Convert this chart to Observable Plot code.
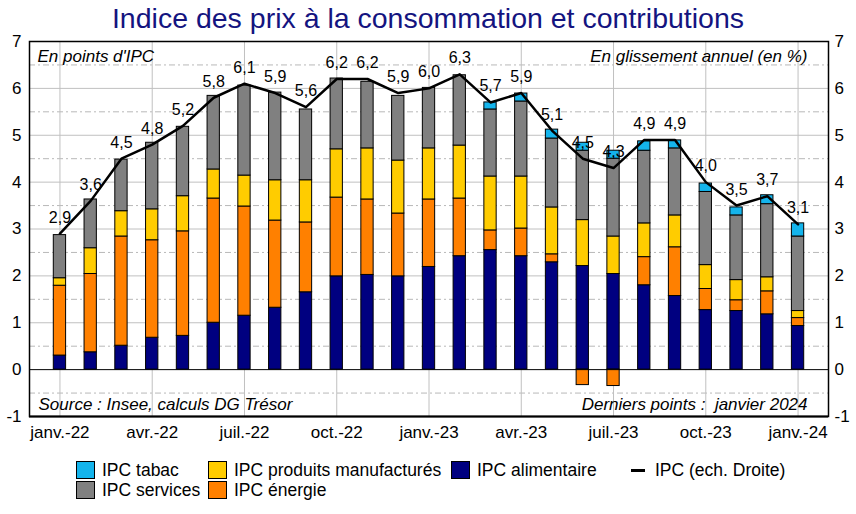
<!DOCTYPE html>
<html>
<head>
<meta charset="utf-8">
<script src="https://cdn.jsdelivr.net/npm/d3@7"></script>
<script src="https://cdn.jsdelivr.net/npm/@observablehq/plot@0.6"></script>
<style>
  body { margin: 0; background: #fff; font-family: "Liberation Sans", Arial, sans-serif; }
  #wrap { width: 856px; height: 514px; position: relative; overflow: hidden; }
  #title { height: 36px; line-height: 36px; text-align: center; font-size: 28.5px; color: #14147f; white-space: nowrap; }
  #chart svg { display: block; }
  #legend { position: relative; height: 68px; font-size: 17.5px; color: #000; }
  .item { position: absolute; display: flex; align-items: center; height: 18px; white-space: nowrap; }
  .sw { width: 17px; height: 16px; border: 1px solid #000; margin-right: 7px; box-sizing: content-box; }
  .ln { width: 14px; height: 3px; background: #000; margin-right: 10px; }
</style>
</head>
<body>
<div id="wrap">
  <div id="title">Indice des prix à la consommation et contributions</div>
  <div id="chart"></div>
  <div id="legend"></div>
</div>
<script>
const months = ["janv.-22","févr.-22","mars-22","avr.-22","mai-22","juin-22","juil.-22","août-22","sept.-22","oct.-22","nov.-22","déc.-22",
  "janv.-23","févr.-23","mars-23","avr.-23","mai-23","juin-23","juil.-23","août-23","sept.-23","oct.-23","nov.-23","déc.-23","janv.-24"];
const tickMonths = ["janv.-22","avr.-22","juil.-22","oct.-22","janv.-23","avr.-23","juil.-23","oct.-23","janv.-24"];

const alimentaire   = [0.30,0.37,0.51,0.68,0.72,1.00,1.15,1.32,1.65,1.99,2.02,1.99,2.19,2.42,2.55,2.42,2.29,2.21,2.04,1.80,1.57,1.27,1.25,1.18,0.93];
const energie       = [1.49,1.67,2.33,2.08,2.23,2.65,2.33,1.86,1.49,1.68,1.61,1.34,1.44,1.23,0.42,0.59,0.17,-0.33,-0.35,0.60,1.04,0.45,0.23,0.49,0.17];
const manufactures  = [0.16,0.55,0.54,0.66,0.75,0.62,0.66,0.86,0.90,1.03,1.09,1.13,1.09,1.13,1.15,1.11,1.00,0.98,0.80,0.72,0.68,0.51,0.43,0.30,0.15];
const services      = [0.92,1.04,1.10,1.42,1.48,1.57,1.92,1.87,1.51,1.51,1.42,1.38,1.29,1.50,1.43,1.60,1.47,1.48,1.66,1.55,1.43,1.56,1.38,1.56,1.59];
const tabac         = [0,0,0,0,0,0,0,0,0,0,0,0,0,0,0.15,0.17,0.19,0.17,0.17,0.20,0.17,0.18,0.17,0.19,0.28];
const ipc           = [2.9,3.6,4.5,4.8,5.2,5.8,6.1,5.9,5.6,6.2,6.2,5.9,6.0,6.3,5.7,5.9,5.1,4.5,4.3,4.9,4.9,4.0,3.5,3.7,3.1];

const seriesNames  = ["IPC alimentaire","IPC énergie","IPC produits manufacturés","IPC services","IPC tabac"];
const seriesColors = ["#000080","#ff8000","#ffcc00","#808080","#14b4ec"];
const seriesValues = [alimentaire, energie, manufactures, services, tabac];

const yTicks = [-1,0,1,2,3,4,5,6,7];
const yGrid = [1,2,3,4,5,6];
const yHalf = [-0.5,0.5,1.5,2.5,3.5,4.5,5.5,6.5];

const bars = months.flatMap((m, i) => seriesNames.map((s, j) => ({month: m, series: s, value: seriesValues[j][i]})))
  .filter(d => d.value !== 0);
const ipcRows = months.map((m, i) => ({month: m, ipc: ipc[i]}));

const chart = Plot.plot({
  width: 856,
  height: 410,
  marginTop: 5,
  marginBottom: 30,
  marginLeft: 29,
  marginRight: 28,
  style: {fontFamily: "Liberation Sans, Arial, sans-serif", fontSize: "17px", background: "white", overflow: "visible", color: "black"},
  x: {domain: months, paddingInner: 0.6, paddingOuter: 0.79, round: false, axis: null, label: null},
  y: {domain: [-1, 7], axis: null, label: null},
  color: {domain: seriesNames, range: seriesColors},
  marks: [
    Plot.gridY(yHalf, {stroke: "#b8b8b8", strokeOpacity: 1, strokeDasharray: "6,3,2,3"}),
    Plot.gridY(yGrid, {stroke: "#c0c0c0", strokeOpacity: 1}),
    Plot.gridX(tickMonths, {stroke: "#c0c0c0", strokeOpacity: 1}),
    Plot.axisX(tickMonths, {tickSize: 0, tickPadding: 9, fontSize: 17, label: null}),
    Plot.axisY(yTicks, {anchor: "left", tickSize: 0, tickPadding: 8, fontSize: 17, label: null, tickFormat: d => String(d)}),
    Plot.axisY(yTicks, {anchor: "right", tickSize: 0, tickPadding: 6, fontSize: 17, label: null, tickFormat: d => String(d)}),
    Plot.barY(bars, {x: "month", y: "value", fill: "series", order: seriesNames, stroke: "black", strokeWidth: 1}),
    Plot.ruleY([0], {stroke: "black", strokeWidth: 1}),
    Plot.lineY(ipcRows, {x: "month", y: "ipc", stroke: "black", strokeWidth: 2.5}),
    Plot.text(ipcRows, {x: "month", y: "ipc", text: d => d.ipc.toFixed(1).replace(".", ","), dy: -11, lineAnchor: "bottom", fontSize: 16, fill: "black"}),
    Plot.text(["En points d'IPC"], {frameAnchor: "top-left", dx: 8, dy: 8, fontStyle: "italic", fontSize: 17, fill: "black"}),
    Plot.text(["En glissement annuel (en %)"], {frameAnchor: "top-right", dx: -21, dy: 8, fontStyle: "italic", fontSize: 17, fill: "black"}),
    Plot.text(["Source : Insee, calculs DG Trésor"], {frameAnchor: "bottom-left", dx: 9, dy: -7, fontStyle: "italic", fontSize: 17, fill: "black"}),
    Plot.text(["Derniers points :  janvier 2024"], {frameAnchor: "bottom-right", dx: -21, dy: -7, fontStyle: "italic", fontSize: 17, fill: "black"}),
    Plot.ruleY([-1], {stroke: "black", strokeWidth: 2}),
    Plot.frame({stroke: "black", strokeWidth: 1.5})
  ]
});
document.getElementById("chart").appendChild(chart);

// Legend (HTML, below the SVG)
const legendItems = [
  {label: "IPC tabac", color: "#14b4ec", left: 76, top: 15},
  {label: "IPC services", color: "#808080", left: 76, top: 35},
  {label: "IPC produits manufacturés", color: "#ffcc00", left: 208, top: 15},
  {label: "IPC énergie", color: "#ff8000", left: 208, top: 35},
  {label: "IPC alimentaire", color: "#000080", left: 451, top: 15},
  {label: "IPC (ech. Droite)", color: null, left: 631, top: 15}
];
const legend = document.getElementById("legend");
for (const it of legendItems) {
  const div = document.createElement("div");
  div.className = "item";
  div.style.left = it.left + "px";
  div.style.top = it.top + "px";
  const mark = document.createElement("span");
  if (it.color) { mark.className = "sw"; mark.style.background = it.color; }
  else { mark.className = "ln"; }
  div.appendChild(mark);
  const t = document.createElement("span");
  t.textContent = it.label;
  div.appendChild(t);
  legend.appendChild(div);
}
</script>
</body>
</html>
